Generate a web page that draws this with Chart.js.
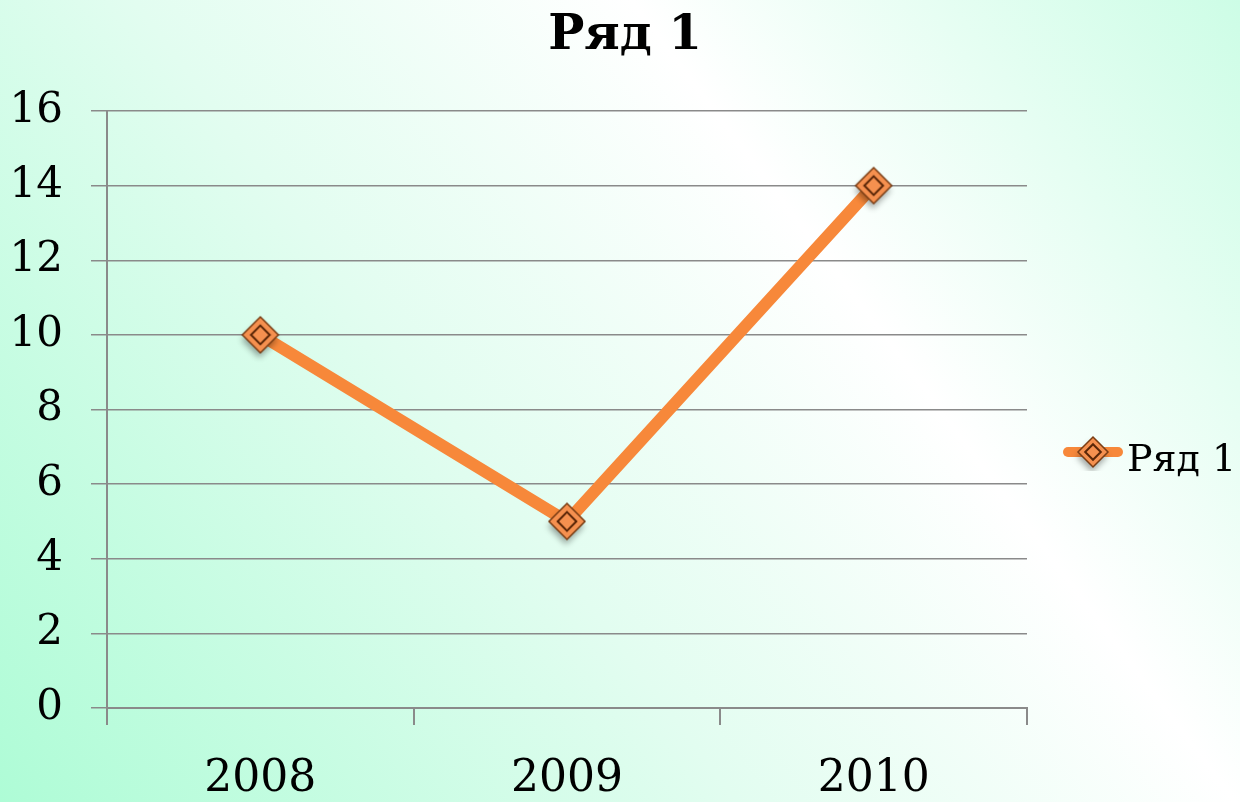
<!DOCTYPE html>
<html>
<head>
<meta charset="utf-8">
<script src="https://cdn.jsdelivr.net/npm/chart.js@4/dist/chart.umd.min.js"></script>
<style>
  html, body { margin: 0; padding: 0; }
  body {
    width: 1240px; height: 802px; overflow: hidden;
    background: linear-gradient(53deg, #aefcd6 0%, #e2fdf0 40%, #ffffff 67%, #cdfde6 100%);
  }
  #wrap { position: relative; width: 1240px; height: 802px; }
</style>
</head>
<body>
<div id="wrap"><canvas id="lineChart"></canvas></div>
<script>
// === DATA ===
const years = ['2008', '2009', '2010'];
const seriesName = 'Ряд 1';
const seriesValues = [10, 5, 14];
const yTicks = [0, 2, 4, 6, 8, 10, 12, 14, 16];

const FONT = '"DejaVu Serif", "Liberation Serif", serif';
const ORANGE = '#f7883a';

// diamond marker with inner outline and soft shadow
function makeMarker(r, pad, withLine) {
    const w = withLine ? 62 : 2 * (r + pad);
    const h = 2 * (r + pad);
    const c = document.createElement('canvas');
    c.width = w; c.height = h;
    const ctx = c.getContext('2d');
    const cx = w / 2, cy = h / 2;
    const diamond = (rr) => {
        ctx.beginPath();
        ctx.moveTo(cx, cy - rr);
        ctx.lineTo(cx + rr, cy);
        ctx.lineTo(cx, cy + rr);
        ctx.lineTo(cx - rr, cy);
        ctx.closePath();
    };
    if (withLine) {
        ctx.strokeStyle = ORANGE;
        ctx.lineWidth = 10;
        ctx.lineCap = 'round';
        ctx.beginPath();
        ctx.moveTo(6, cy);
        ctx.lineTo(w - 6, cy);
        ctx.stroke();
    }
    ctx.save();
    ctx.shadowColor = 'rgba(0,0,0,0.35)';
    ctx.shadowBlur = 6;
    ctx.shadowOffsetX = -1;
    ctx.shadowOffsetY = 5;
    diamond(r);
    ctx.fillStyle = '#f5904f';
    ctx.fill();
    ctx.restore();
    diamond(r);
    ctx.strokeStyle = '#7a3d14';
    ctx.lineWidth = 1.5;
    ctx.stroke();
    diamond(r * 0.52);
    ctx.strokeStyle = '#5a2608';
    ctx.lineWidth = 2;
    ctx.stroke();
    return c;
}

const pointImg = makeMarker(18, 14, false);
const legendImg = makeMarker(15, 4, true);

// title centred on the whole page and legend beside the plot
const sideDecor = {
    id: 'sideDecor',
    afterDraw(chart) {
        const ctx = chart.ctx;
        const ds = chart.data.datasets[0];
        ctx.save();
        ctx.fillStyle = '#000';
        ctx.textAlign = 'center';
        ctx.textBaseline = 'alphabetic';
        ctx.font = 'bold 48px ' + FONT;
        ctx.fillText(ds.label, 625, 49);

        const x = chart.chartArea.right + 66;
        const y = 452;
        ctx.drawImage(legendImg, x - legendImg.width / 2, y - legendImg.height / 2);
        ctx.font = '38px ' + FONT;
        ctx.textAlign = 'left';
        ctx.fillText(ds.label, x + 34, 471);
        ctx.restore();
    }
};

new Chart(document.getElementById('lineChart'), {
    type: 'line',
    data: {
        labels: years,
        datasets: [{
            label: seriesName,
            data: seriesValues,
            borderColor: ORANGE,
            borderWidth: 12,
            tension: 0,
            pointStyle: pointImg,
            pointRadius: 18,
            pointHoverRadius: 18
        }]
    },
    options: {
        responsive: true,
        maintainAspectRatio: false,
        animation: false,
        layout: { padding: { left: 0, right: 213, top: 111, bottom: 0 } },
        plugins: {
            legend: { display: false },
            tooltip: { enabled: false },
            title: { display: false }
        },
        scales: {
            x: {
                offset: true,
                afterFit: (axis) => { axis.height = 94; },
                grid: {
                    offset: true,
                    drawOnChartArea: false,
                    drawTicks: true,
                    tickLength: 17,
                    color: '#8a8a8a',
                    lineWidth: 2
                },
                border: { color: '#8a8a8a', width: 2 },
                ticks: { color: '#000', padding: 28, font: { family: FONT, size: 44 } }
            },
            y: {
                min: 0,
                max: 16,
                afterBuildTicks: (axis) => { axis.ticks = yTicks.map(v => ({ value: v })); },
                afterFit: (axis) => { axis.width = 107; },
                grid: { color: '#8a8a8a', lineWidth: 1.5, tickLength: 16 },
                border: { color: '#8a8a8a', width: 2 },
                ticks: { color: '#000', padding: 28, font: { family: FONT, size: 42 } }
            }
        }
    },
    plugins: [sideDecor]
});
</script>
</body>
</html>
